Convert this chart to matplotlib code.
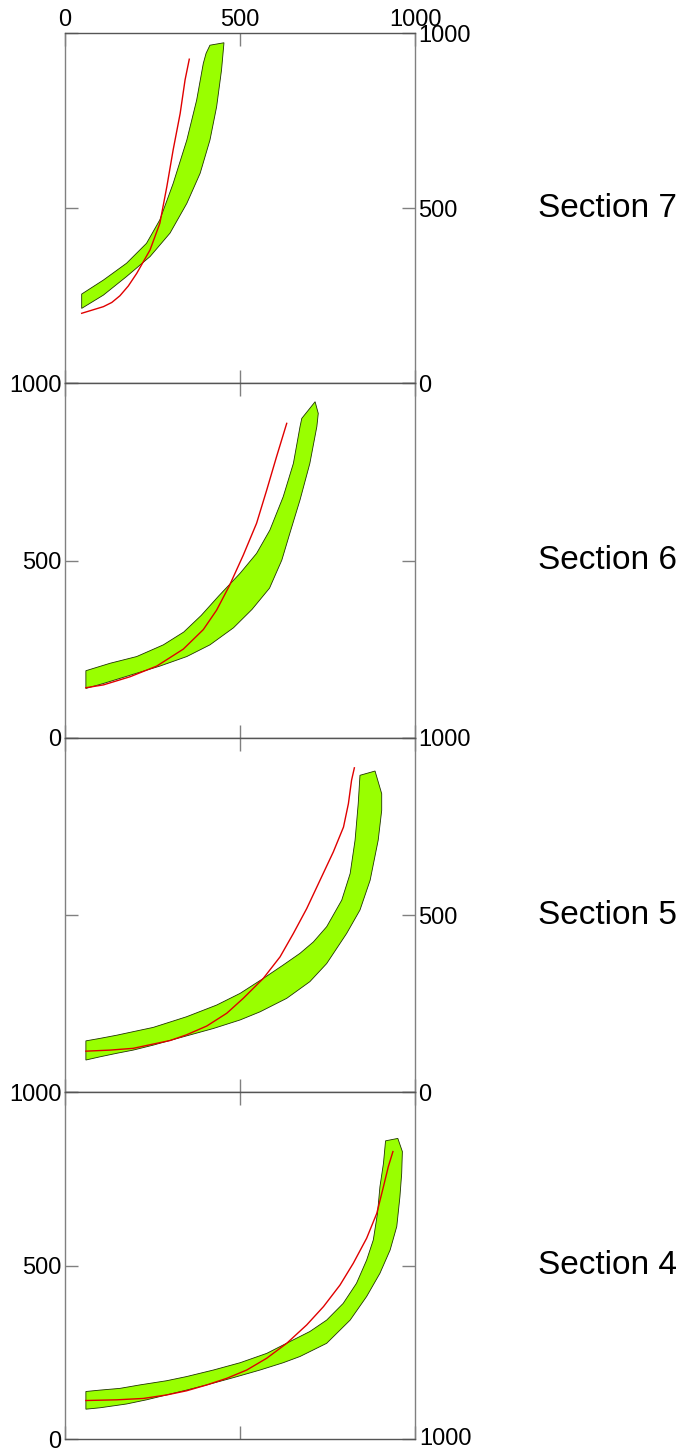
import matplotlib
matplotlib.use('Agg')
import matplotlib.pyplot as plt

plt.rcParams['font.family'] = ['Liberation Sans', 'DejaVu Sans']

# Section names, top to bottom
sections = ['Section 7', 'Section 6', 'Section 5', 'Section 4']

# Green band outlines (x, y) for each section
band7_x = [49, 111, 177, 234, 272, 310, 349, 377, 396, 404, 415, 455,
           448, 434, 415, 387, 349, 301, 244, 177, 111, 49]
band7_y = [255, 295, 343, 400, 467, 571, 695, 809, 914, 943, 966, 973,
           895, 790, 695, 600, 514, 429, 362, 305, 252, 214]

band6_x = [61, 130, 206, 282, 340, 390, 440, 501, 548, 586, 624, 653, 672, 677, 715,
           724, 720, 700, 672, 643, 620, 585, 535, 482, 415, 349, 272, 206, 111, 61]
band6_y = [189, 210, 229, 262, 298, 345, 400, 464, 520, 586, 680, 774, 878, 901, 948,
           915, 878, 774, 671, 577, 501, 422, 362, 310, 262, 229, 202, 182, 153, 139]

band5_x = [61, 101, 149, 196, 253, 348, 434, 501, 567, 624, 672, 710, 748, 791, 815, 829, 838, 843,
           886, 905, 905, 895, 872, 843, 805, 748, 700, 634, 558, 501, 425, 348, 253, 196, 149, 101, 61]
band5_y = [145, 152, 161, 171, 183, 213, 246, 279, 321, 359, 392, 424, 467, 542, 617, 711, 814, 894,
           906, 842, 795, 711, 598, 514, 448, 363, 312, 265, 227, 204, 180, 159, 133, 119, 110, 100, 91]

band4_x = [61, 101, 158, 215, 291, 348, 425, 501, 577, 643, 700, 748, 795, 833, 862, 881, 893, 900, 910, 916,
           951, 964, 962, 957, 948, 929, 900, 862, 815, 748, 672, 624, 558, 482, 406, 348, 291, 234, 177, 101, 61]
band4_y = [137, 141, 146, 156, 168, 180, 199, 220, 247, 281, 310, 343, 391, 449, 516, 574, 651, 728, 795, 860,
           867, 829, 766, 699, 613, 545, 478, 411, 343, 276, 238, 220, 199, 177, 156, 141, 127, 113, 101, 90, 86]

# Red curves for each section
curve7_x = [49, 111, 135, 158, 182, 206, 244, 272, 292, 310, 330, 344, 356]
curve7_y = [200, 219, 231, 250, 278, 314, 381, 457, 562, 667, 771, 867, 926]

curve6_x = [61, 111, 187, 263, 339, 396, 434, 470, 510, 548, 577, 605, 634]
curve6_y = [141, 149, 172, 202, 250, 305, 360, 428, 515, 605, 699, 793, 887]

curve5_x = [61, 130, 196, 253, 301, 348, 406, 463, 510, 567, 615, 653, 691, 729, 767, 796, 810, 819, 827]
curve5_y = [116, 119, 124, 136, 146, 162, 187, 223, 265, 321, 382, 448, 518, 598, 678, 748, 814, 880, 915]

curve4_x = [61, 149, 225, 291, 348, 406, 463, 520, 577, 634, 691, 739, 786, 824, 862, 891, 910, 924, 937]
curve4_y = [111, 113, 117, 127, 139, 156, 175, 199, 233, 276, 329, 382, 444, 507, 579, 651, 728, 786, 829]

bands = [(band7_x, band7_y), (band6_x, band6_y), (band5_x, band5_y), (band4_x, band4_y)]
curves = [(curve7_x, curve7_y), (curve6_x, curve6_y), (curve5_x, curve5_y), (curve4_x, curve4_y)]

ticks = [0, 500, 1000]
tick_text = ['0', '500', '1000']

W, H = 684, 1454
fig = plt.figure(figsize=(W / 100, H / 100), dpi=100)

# panel edges in pixels from top
edges = [33.3, 383.3, 737.7, 1092.3, 1439]
left_px, right_px = 64.5, 415

for i in range(4):
    top, bot = edges[i], edges[i + 1]
    ax = fig.add_axes([left_px / W, 1 - bot / H, (right_px - left_px) / W, (bot - top) / H])
    bx, by = bands[i]
    ax.fill(bx, by, facecolor='#99ff00', edgecolor='#1f3300', linewidth=0.6, zorder=2)
    cx, cy = curves[i]
    ax.plot(cx, cy, color='#e00000', linewidth=1.0, zorder=3)
    ax.set_xlim(0, 1000)
    ax.set_ylim(0, 1000)

    for s in ax.spines.values():
        s.set_color('#808080')
        s.set_linewidth(1.0)
    ax.spines['top'].set_color('#555555')
    ax.spines['bottom'].set_color('#555555')

    ax.set_xticks(ticks)
    ax.set_yticks(ticks)
    ax.tick_params(axis='both', which='both', direction='in', length=9.5, width=1.0,
                   color='#808080', labelsize=17, top=True, bottom=True, left=True, right=True,
                   labeltop=False, labelbottom=False, labelleft=False, labelright=False)
    ax.tick_params(axis='y', pad=2)
    ax.tick_params(axis='x', pad=2)

    if i == 0:
        ax.tick_params(labeltop=True, labelright=True)
        ax.set_xticklabels(tick_text)
        ax.set_yticklabels(tick_text)
    elif i == 1:
        ax.tick_params(labelleft=True)
        ax.set_yticklabels(tick_text)
    elif i == 2:
        ax.tick_params(labelright=True)
        ax.set_yticklabels(tick_text)
    else:
        ax.tick_params(labelleft=True)
        ax.set_yticklabels(tick_text)

    fig.text(538 / W, 1 - (top + bot) / 2 / H, sections[i], fontsize=24,
             ha='left', va='center')

# stray label at the bottom right
fig.text(419 / W, 1 - 1439 / H, '1000', fontsize=17, ha='left', va='center')

fig.savefig('out.png', dpi=100)
